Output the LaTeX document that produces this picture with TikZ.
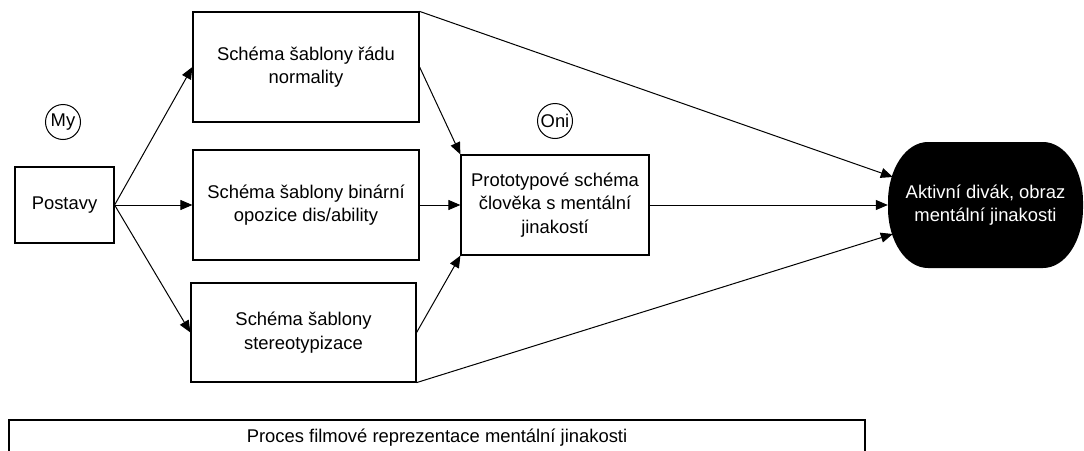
\documentclass[tikz,border=0pt]{standalone}
\usepackage{fontspec}
\setmainfont{Liberation Sans}
\usetikzlibrary{arrows.meta}
\begin{document}
\begin{tikzpicture}[x=1pt,y=1pt,
  every node/.style={font=\fontsize{18.4}{23.5}\selectfont},
  box/.style={draw,line width=1.2pt,rectangle,align=center,inner sep=0pt},
  circ/.style={draw,line width=1pt,circle,inner sep=0pt,minimum size=35pt},
  arr/.style={line width=1pt,-{Triangle[length=12pt,width=10pt]}},
  ln/.style={line width=1pt}]
\useasboundingbox (0,0) rectangle (1084,-450);
\clip (0,0) rectangle (1084,-450);
\fill[white] (0,0) rectangle (1084,-450);

\node[box,minimum width=99pt,minimum height=76pt] (post) at (64.5,-205) {Postavy};
\node[box,minimum width=226pt,minimum height=110pt] (b1) at (306,-67) {Schéma šablony řádu\\normality};
\node[box,minimum width=226pt,minimum height=110pt] (b2) at (306,-205) {Schéma šablony binární\\opozice dis/ability};
\node[box,minimum width=225pt,minimum height=99pt] (b3) at (303.5,-332.5) {Schéma šablony\\stereotypizace};
\node[box,minimum width=188pt,minimum height=100pt] (proto) at (555,-205) {Prototypové schéma\\člověka s mentální\\jinakostí};
\node[circ] (my) at (63,-122) {My};
\node[circ] (oni) at (555,-121) {Oni};
\node[rectangle,inner sep=0pt,minimum width=195pt,minimum height=126pt,text=white,align=center,
  path picture={\fill[black]
    ([xshift=-40pt]path picture bounding box.north east)
    arc[start angle=90,end angle=0,x radius=40pt,y radius=60pt]
    -- ([yshift=60pt]path picture bounding box.south east)
    arc[start angle=0,end angle=-90,x radius=40pt,y radius=60pt]
    -- ([xshift=40pt]path picture bounding box.south west)
    arc[start angle=270,end angle=180,x radius=40pt,y radius=60pt]
    -- ([yshift=-60pt]path picture bounding box.north west)
    arc[start angle=180,end angle=90,x radius=40pt,y radius=60pt]
    -- cycle;}] (bl) at (985.5,-205) {Aktivní divák, obraz\\mentální jinakosti};
\node[box,minimum width=856pt,minimum height=36pt] (proc) at (437,-438) {Proces filmové reprezentace mentální jinakosti};

\draw[arr] (post.east) -- (b1.west);
\draw[arr] (post.east) -- (b2.west);
\draw[arr] (post.east) -- (b3.west);
\draw[arr] (b1.east) -- (proto.north west);
\draw[arr] (b2.east) -- (proto.west);
\draw[arr] (b3.east) -- (proto.south west);
\draw[arr] (b1.north east) -- ([xshift=5pt,yshift=28pt]bl.west);
\draw[arr] (proto.east) -- (bl.west);
\draw[arr] (b3.south east) -- ([xshift=5pt,yshift=-29pt]bl.west);
\end{tikzpicture}
\end{document}
